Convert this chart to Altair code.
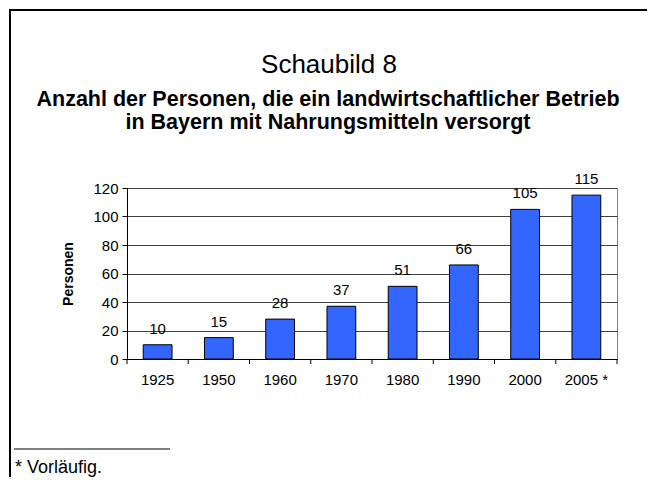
import altair as alt
import pandas as pd

# ---- data ----
years = ["1925", "1950", "1960", "1970", "1980", "1990", "2000", "2005 *"]
persons = [10, 15, 28, 37, 51, 66, 105, 115]
y_ticks = [0, 20, 40, 60, 80, 100, 120]
chart_title = "Schaubild 8"
subtitle_lines = [
    "Anzahl der Personen, die ein landwirtschaftlicher Betrieb",
    "in Bayern mit Nahrungsmitteln versorgt",
]
y_title = "Personen"
footnote = "* Vorläufig."

# ---- layout ----
W, H = 490, 171
FONT = "Liberation Sans"
BLUE = "#3366FF"

df = pd.DataFrame({"year": years, "persons": persons})

x_enc = alt.X(
    "year:N",
    sort=years,
    title=None,
    scale=alt.Scale(paddingInner=0, paddingOuter=0),
    axis=alt.Axis(
        labelAngle=0,
        ticks=False,
        labelPadding=13,
        labelFontSize=15,
        labelColor="black",
        domainColor="black",
        labelFont=FONT,
    ),
)
y_enc = alt.Y(
    "persons:Q",
    scale=alt.Scale(domain=[0, 120], nice=False),
    axis=alt.Axis(
        values=y_ticks,
        title=y_title,
        titleFontSize=14,
        titleFontWeight="bold",
        titleFont=FONT,
        titleColor="black",
        titlePadding=17,
        labelFontSize=15,
        labelFont=FONT,
        labelColor="black",
        labelPadding=4,
        tickSize=5,
        tickColor="black",
        domainColor="black",
        gridColor="#404040",
        gridOpacity=1,
    ),
)

base = alt.Chart(df)

bars = base.mark_bar(
    width=alt.RelativeBandSize(0.47), fill=BLUE, stroke="black", strokeWidth=1
).encode(x=x_enc, y=y_enc)

values = base.mark_text(
    dy=-16, fontSize=15, font=FONT, color="black", baseline="middle"
).encode(x=x_enc, y=y_enc, text="persons:Q")

xticks = base.mark_rule(color="black", strokeWidth=1).encode(
    x=alt.X("year:N", sort=years, bandPosition=0),
    y=alt.value(H),
    y2=alt.value(H + 5),
)
one = alt.Data(values=[{}])

end_tick = alt.Chart(one).mark_rule(color="black").encode(
    x=alt.value(W), y=alt.value(H), y2=alt.value(H + 5)
)

title_txt = alt.Chart(one).mark_text(
    text=chart_title, fontSize=26, font=FONT, align="center", baseline="middle", color="black"
).encode(x=alt.value(202), y=alt.value(-123))

sub1 = alt.Chart(one).mark_text(
    text=subtitle_lines[0], fontSize=21.5, fontWeight="bold", font=FONT,
    align="center", baseline="middle", color="black"
).encode(x=alt.value(201), y=alt.value(-88))
sub2 = alt.Chart(one).mark_text(
    text=subtitle_lines[1], fontSize=21.5, fontWeight="bold", font=FONT,
    align="center", baseline="middle", color="black"
).encode(x=alt.value(201), y=alt.value(-65))

foot_rule = alt.Chart(one).mark_rule(color="black", strokeWidth=1).encode(
    x=alt.value(-113), x2=alt.value(43), y=alt.value(261)
)
foot_txt = alt.Chart(one).mark_text(
    text=footnote, fontSize=18, font=FONT, align="left", baseline="middle", color="black"
).encode(x=alt.value(-112), y=alt.value(280))

frame_top = alt.Chart(one).mark_rule(color="black", strokeWidth=2).encode(
    x=alt.value(-118), x2=alt.value(540), y=alt.value(-178)
)
frame_left = alt.Chart(one).mark_rule(color="black", strokeWidth=2).encode(
    x=alt.value(-117), y=alt.value(-179), y2=alt.value(300)
)

chart = (
    alt.layer(
        bars, values, xticks, end_tick, title_txt, sub1, sub2,
        foot_rule, foot_txt, frame_top, frame_left
    )
    .properties(
        width=W,
        height=H,
        padding={"left": 119, "top": 180, "right": 30, "bottom": 118},
        autosize=alt.AutoSizeParams(type="none"),
    )
    .configure(font=FONT)
    .configure_view(stroke="#808080", strokeWidth=1)
)

chart.save("out.html", embed_options={"renderer": "svg", "actions": False})
